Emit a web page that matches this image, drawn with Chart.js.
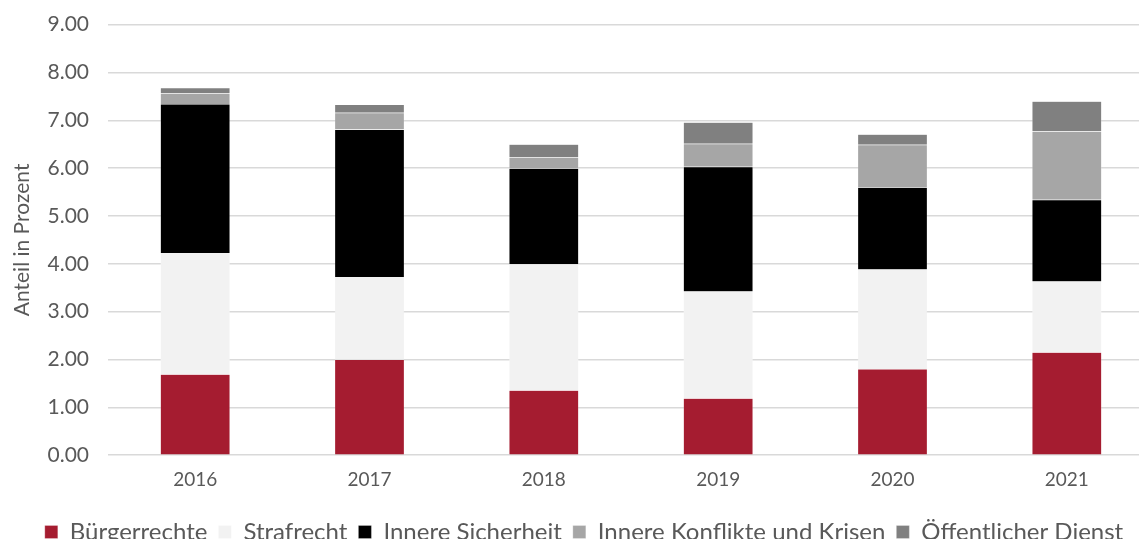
<!DOCTYPE html>
<html>
<head>
<meta charset="utf-8">
<script src="https://cdn.jsdelivr.net/npm/chart.js@4/dist/chart.umd.min.js"></script>
<style>
  html, body { margin: 0; padding: 0; background: #fff; overflow: hidden; }
  #wrap { position: absolute; left: 0; top: -7px; width: 1154px; height: 561px; }
</style>
</head>
<body>
<div id="wrap"><canvas id="myChart"></canvas></div>
<script>
// values
const years = ['2016', '2017', '2018', '2019', '2020', '2021'];
const buergerrechte = [1.69, 2.00, 1.36, 1.19, 1.80, 2.15];
const strafrecht = [2.53, 1.72, 2.63, 2.23, 2.08, 1.48];
const innereSicherheit = [3.12, 3.09, 2.01, 2.61, 1.72, 1.71];
const konflikte = [0.22, 0.35, 0.22, 0.48, 0.89, 1.43];
const oeffentlicherDienst = [0.12, 0.17, 0.28, 0.45, 0.22, 0.63];

const gray = '#595959';
const font = 'Lato, "Noto Sans", sans-serif';

function series(label, data, color) {
    return {
        label: label,
        data: data,
        backgroundColor: color,
        borderColor: 'rgba(255,255,255,0.5)',
        borderWidth: 0.5,
        categoryPercentage: 1,
        barPercentage: 0.4
    };
}

// nudge the legend a little to the right, like the original
const legendShift = {
    id: 'legendShift',
    afterLayout(chart) {
        chart.legend.left += 7;
        chart.legend.right += 7;
    }
};

const ctx = document.getElementById('myChart').getContext('2d');
const myChart = new Chart(ctx, {
    type: 'bar',
    data: {
        labels: years,
        datasets: [
            series('Bürgerrechte', buergerrechte, '#A51C30'),
            series('Strafrecht', strafrecht, '#F2F2F2'),
            series('Innere Sicherheit', innereSicherheit, '#000000'),
            series('Innere Konflikte und Krisen', konflikte, '#A6A6A6'),
            series('Öffentlicher Dienst', oeffentlicherDienst, '#808080')
        ]
    },
    plugins: [legendShift],
    options: {
        responsive: true,
        maintainAspectRatio: false,
        animation: false,
        layout: { padding: { top: 1, left: 0, right: 0, bottom: 0 } },
        plugins: {
            tooltip: { enabled: false },
            legend: {
                position: 'bottom',
                labels: {
                    color: gray,
                    font: { family: font, size: 24 },
                    boxWidth: 13,
                    boxHeight: 13,
                    padding: 11
                }
            }
        },
        scales: {
            x: {
                stacked: true,
                afterFit: function (s) { s.height += 13; },
                grid: { display: false },
                border: { display: false },
                ticks: { color: gray, font: { family: font, size: 19 }, padding: 5 }
            },
            y: {
                stacked: true,
                min: 0,
                max: 9,
                afterFit: function (s) { s.width = 108; },
                grid: { color: '#d9d9d9', lineWidth: 1.5, drawTicks: false },
                border: { display: false },
                ticks: {
                    stepSize: 1,
                    color: gray,
                    padding: 19,
                    font: { family: font, size: 21 },
                    callback: function (v) { return v.toFixed(2); }
                },
                title: {
                    display: true,
                    text: 'Anteil in Prozent',
                    color: gray,
                    font: { family: font, size: 21 },
                    padding: { top: 10, bottom: 0 }
                }
            }
        }
    }
});
</script>
</body>
</html>
